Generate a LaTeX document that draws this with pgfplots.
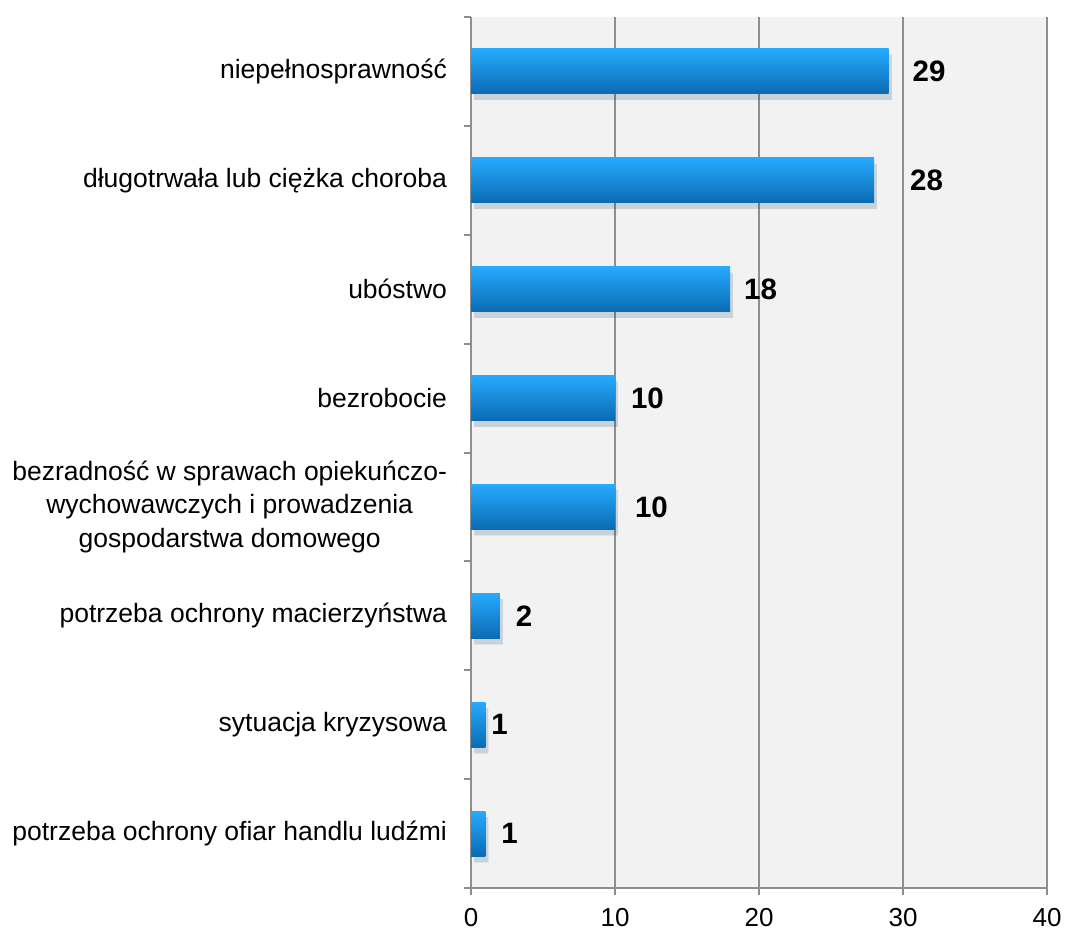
\documentclass[border=0pt]{standalone}
\usepackage{fontspec}
\setmainfont{Liberation Sans}
\usepackage{pgfplots}
\pgfplotsset{compat=1.18}
\usetikzlibrary{calc}

\definecolor{plotbg}{HTML}{F2F2F2}
\definecolor{gridgray}{HTML}{8E8E8E}
\definecolor{bartop}{HTML}{26AAFF}
\definecolor{barbot}{HTML}{0B6BB3}

\pgfplotsset{onebar/.style={draw=none, top color=bartop, bottom color=barbot, bar shift=0pt,
  preaction={fill=black, fill opacity=0.09, transform canvas={xshift=1.5bp, yshift=-3bp}},
  every node near coord/.append style={xshift=#1}}}

\begin{document}
\begin{tikzpicture}
\begin{axis}[
  name=ax,
  scale only axis,
  width=288bp, height=435.5bp,
  xbar, bar width=22.5bp,
  xmin=0, xmax=40,
  ymin=0.5, ymax=8.5,
  y dir=reverse,
  axis x line*=bottom, axis y line*=left,
  axis line style={draw=gridgray, line width=1bp},
  axis background/.style={fill=plotbg},
  xtick={0,10,20,30,40},
  xmajorgrids=true,
  grid style={draw=gridgray, line width=1bp},
  major tick length=3.5bp,
  tick align=outside,
  tick style={draw=gridgray, line width=1bp},
  ytick={0.5,1.5,...,8.5},
  yticklabels={},
  extra y ticks={1,2,3,4,5,6,7,8},
  extra y tick style={tick style={draw=none}, grid=none},
  extra y tick labels={
    niepełnosprawność,
    długotrwała lub ciężka choroba,
    ubóstwo,
    bezrobocie,
    {bezradność w sprawach opiekuńczo-\\wychowawczych i prowadzenia\\gospodarstwa domowego},
    potrzeba ochrony macierzyństwa,
    sytuacja kryzysowa,
    potrzeba ochrony ofiar handlu ludźmi},
  yticklabel style={font=\fontsize{13.25bp}{16.75bp}\selectfont, align=center, xshift=-5bp},
  xticklabel style={font=\fontsize{13bp}{16bp}\selectfont, yshift=-3bp},
  /pgf/number format/assume math mode=true,
  nodes near coords,
  every node near coord/.append style={font=\fontsize{14.75bp}{17bp}\selectfont\bfseries, black},
]
\addplot[onebar=8.5bp] coordinates {(29,1)};
\addplot[onebar=14.5bp] coordinates {(28,2)};
\addplot[onebar=3.5bp] coordinates {(18,3)};
\addplot[onebar=4.5bp] coordinates {(10,4)};
\addplot[onebar=6.5bp] coordinates {(10,5)};
\addplot[onebar=4.5bp] coordinates {(2,6)};
\addplot[onebar=-0.5bp] coordinates {(1,7)};
\addplot[onebar=4.5bp] coordinates {(1,8)};
\end{axis}
\pgfresetboundingbox
\path[use as bounding box] ($(ax.south west)+(-235.5bp,-21.5bp)$) rectangle ($(ax.north east)+(9bp,8.5bp)$);
\end{tikzpicture}
\end{document}
